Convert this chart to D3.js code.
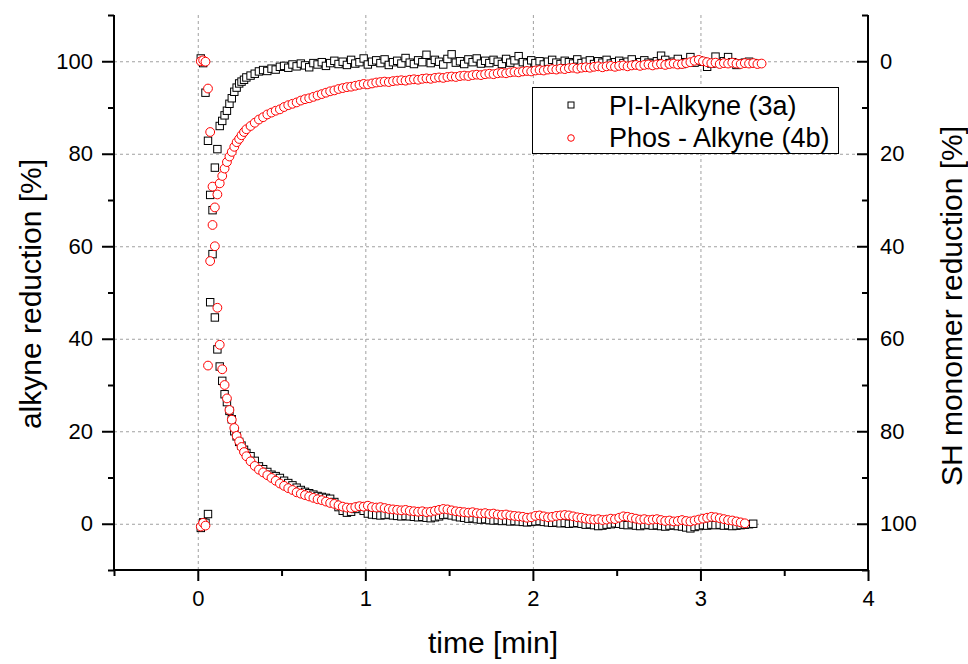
<!DOCTYPE html>
<html>
<head>
<meta charset="utf-8">
<script src="https://cdn.jsdelivr.net/npm/d3@7"></script>
<style>
  body { margin: 0; background: #fff; }
  svg { font-family: "Liberation Sans", Arial, sans-serif; }
</style>
</head>
<body>
<svg width="968" height="664"></svg>
<script>
// sampling times [min], shared by both measurements
const time = [
  0.018, 0.032, 0.046, 0.061, 0.074, 0.088, 0.102, 0.117, 0.131, 0.146,
  0.160, 0.174, 0.189, 0.203, 0.218, 0.232, 0.247, 0.261, 0.276, 0.290,
  0.315, 0.340, 0.365, 0.390, 0.415, 0.440, 0.465, 0.490,
  0.515, 0.540, 0.565, 0.590, 0.615, 0.640, 0.665, 0.690,
  0.715, 0.740, 0.765, 0.790, 0.815, 0.840, 0.865, 0.890,
  0.915, 0.940, 0.965, 0.990, 1.015, 1.040, 1.065, 1.090,
  1.115, 1.140, 1.165, 1.190, 1.215, 1.240, 1.265, 1.290,
  1.315, 1.340, 1.365, 1.390, 1.415, 1.440, 1.465, 1.490,
  1.515, 1.540, 1.565, 1.590, 1.615, 1.640, 1.665, 1.690,
  1.715, 1.740, 1.765, 1.790, 1.815, 1.840, 1.865, 1.890,
  1.915, 1.940, 1.965, 1.990, 2.015, 2.040, 2.065, 2.090,
  2.115, 2.140, 2.165, 2.190, 2.215, 2.240, 2.265, 2.290,
  2.315, 2.340, 2.365, 2.390, 2.415, 2.440, 2.465, 2.490,
  2.515, 2.540, 2.565, 2.590, 2.615, 2.640, 2.665, 2.690,
  2.715, 2.740, 2.765, 2.790, 2.815, 2.840, 2.865, 2.890,
  2.915, 2.940, 2.965, 2.990, 3.015, 3.040, 3.065, 3.090,
  3.115, 3.140, 3.165, 3.190, 3.215, 3.240, 3.265, 3.290,
  3.315, 3.340, 3.365
]

// PI-I-Alkyne (3a): alkyne reduction [%] (left axis)
const piAlkyne = [
  -0.9, 0.3, 0.2, 2.1, 47.9, 67.8, 77.0, 81.0, 86.0, 87.1,
  88.3, 89.3, 90.8, 92.0, 93.4, 94.3, 95.2, 95.6, 96.0, 96.5,
  96.9, 97.3, 97.8, 98.1, 97.9, 98.4, 98.2, 98.8,
  99.0, 98.6, 99.3, 98.9, 99.5, 99.1, 98.7, 99.6,
  99.3, 99.8, 99.0, 99.6, 100.1, 99.4, 99.9, 99.2,
  100.3, 99.5, 99.8, 100.6, 99.3, 99.9, 100.2, 99.6,
  100.4, 99.2, 99.8, 100.1, 99.5, 100.7, 99.7, 99.4,
  100.2, 99.8, 101.4, 99.6, 100.3, 99.9, 99.3, 100.5,
  101.5, 99.7, 100.0, 99.4, 100.4, 99.8, 100.6, 99.5,
  100.1, 99.6, 100.3, 99.9, 99.4, 100.5, 99.7, 100.2,
  101.1, 99.8, 99.5, 100.2, 99.6, 100.0, 99.3, 99.9,
  100.3, 99.7, 99.4, 100.1, 99.8, 99.5, 100.4, 99.6,
  99.9, 100.2, 99.4, 100.0, 99.7, 100.3, 99.5, 99.8,
  100.1, 99.6, 99.9, 100.4, 99.3, 99.8, 100.2, 99.7,
  99.5, 100.0, 101.2, 100.3, 99.6, 99.9, 100.5, 99.4,
  99.8, 100.9, 99.7, 100.2, 99.9, 98.8, 99.5, 101.0,
  99.6, 100.0, 100.9, 99.8, 99.2, 99.5, 99.7, 99.9,
  99.6
]

// PI-I-Alkyne (3a): SH monomer reduction [%] (right axis)
const piSH = [
  -0.6, 0.4, 6.8, 17.2, 28.9, 41.7, 55.4, 62.3, 66.0, 69.1,
  72.0, 73.7, 75.6, 77.4, 80.0, 81.1, 82.3, 83.1, 84.0, 84.7,
  85.4, 86.4, 87.6, 88.2, 88.8, 89.4, 89.7, 90.1,
  90.7, 91.2, 91.7, 92.2, 92.7, 93.1, 93.4, 93.7,
  94.0, 94.2, 94.4, 94.6, 95.3, 96.4, 97.2, 97.6,
  97.4, 96.8, 96.3, 97.2, 97.8, 98.0, 98.1, 98.2,
  98.1, 98.0, 98.2, 98.3, 98.4, 98.3, 98.4, 98.5,
  98.6, 98.5, 98.7, 98.8, 98.6, 98.4, 98.1, 98.0,
  98.2, 98.4, 98.6, 98.7, 98.9, 98.8, 99.0, 99.1,
  99.0, 99.2, 99.3, 99.2, 99.4, 99.3, 99.5, 99.4,
  99.5, 99.6, 99.7, 99.6, 99.5, 99.4, 99.6, 99.7,
  99.8, 99.7, 99.9, 99.8, 100.0, 99.9, 99.8, 100.0,
  100.2, 100.1, 100.3, 100.5, 100.4, 100.2, 100.1, 99.9,
  100.0, 100.2, 100.3, 100.1, 100.4, 100.5, 100.3, 100.2,
  100.4, 100.3, 100.5, 100.6, 100.4, 100.3, 100.5, 100.6,
  100.8, 101.0, 100.7, 100.5, 100.3, 100.4, 100.2, 100.3,
  100.2, 100.4, 100.3, 100.5, 100.4, 100.3, 100.2, 100.1,
  100.0
]

// Phos - Alkyne (4b): alkyne reduction [%] (left axis)
const phosAlkyne = [
  -0.6, 0.2, -0.4, 34.2, 56.8, 64.6, 68.4, 71.2, 73.6, 75.2,
  76.8, 78.2, 79.4, 80.4, 81.5, 82.5, 83.2, 84.0, 84.7, 85.3,
  86.0, 86.7, 87.4, 87.9, 88.5, 88.9, 89.3, 89.6,
  90.1, 90.5, 90.8, 91.1, 91.5, 91.8, 92.0, 92.3,
  92.6, 92.9, 93.2, 93.5, 93.7, 94.0, 94.2, 94.4,
  94.5, 94.7, 94.9, 95.1, 95.0, 95.2, 95.4, 95.5,
  95.6, 95.5, 95.7, 95.8, 95.9, 95.8, 96.0, 96.1,
  96.0, 96.2, 96.3, 96.2, 96.4, 96.5, 96.4, 96.6,
  96.7, 96.6, 96.8, 96.9, 96.8, 97.0, 97.1, 97.0,
  97.2, 97.3, 97.2, 97.4, 97.5, 97.4, 97.6, 97.7,
  97.6, 97.8, 97.9, 97.8, 98.0, 98.1, 98.0, 98.2,
  98.3, 98.2, 98.4, 98.3, 98.5, 98.6, 98.4, 98.6,
  98.7, 98.6, 98.8, 98.9, 98.7, 98.9, 99.0, 98.8,
  99.0, 99.1, 98.9, 99.1, 99.2, 99.0, 99.2, 99.3,
  99.1, 99.3, 99.4, 99.2, 99.4, 99.5, 99.3, 99.4,
  99.6, 99.8, 100.1, 100.3, 100.0, 99.8, 99.6, 99.7,
  99.4, 99.6, 99.5, 99.7, 99.5, 99.4, 99.6, 99.5,
  99.6, 99.4, 99.5
]

// Phos - Alkyne (4b): SH monomer reduction [%] (right axis)
const phosSH = [
  0.0, -0.2, 0.1, 5.9, 15.3, 27.1, 40.0, 53.3, 61.3, 66.6,
  70.0, 72.9, 75.4, 77.5, 79.3, 81.0, 82.2, 83.4, 84.5, 85.4,
  86.5, 87.5, 88.3, 88.9, 89.5, 90.1, 90.7, 91.3,
  91.8, 92.3, 92.7, 93.2, 93.5, 93.8, 94.1, 94.4,
  94.7, 94.9, 95.2, 95.5, 95.7, 96.0, 96.3, 96.5,
  96.6, 96.4, 96.2, 96.3, 96.1, 96.4, 96.5, 96.4,
  96.6, 96.8, 96.9, 97.0, 97.1, 97.0, 97.2, 97.3,
  97.4, 97.3, 97.5, 97.4, 97.2, 97.0, 96.8, 96.9,
  97.1, 97.3, 97.4, 97.5, 97.6, 97.5, 97.7, 97.8,
  97.7, 97.9, 97.8, 98.0, 98.1, 98.0, 98.2, 98.3,
  98.4, 98.5, 98.7, 98.6, 98.3, 98.2, 98.4, 98.6,
  98.5, 98.3, 98.2, 98.1, 98.2, 98.4, 98.6, 98.7,
  98.9, 99.0, 99.1, 99.0, 99.2, 99.1, 98.9, 99.0,
  98.7, 98.4, 98.5, 98.7, 98.9, 99.1, 99.0, 99.2,
  99.1, 99.0, 99.2, 99.4, 99.3, 99.5, 99.4, 99.2,
  99.4, 99.5, 99.3, 99.1, 98.9, 98.7, 98.5, 98.6,
  98.8, 99.0, 99.2, 99.3, 99.5, 99.7, 99.9
]

const xTicks = [0, 1, 2, 3, 4]
const xMinor = [-0.5, 0.5, 1.5, 2.5, 3.5]
const yTicks = [0, 20, 40, 60, 80, 100]
const yMinor = [-10, 10, 30, 50, 70, 90, 110]
const seriesNames = ["PI-I-Alkyne (3a)", "Phos - Alkyne (4b)"]

const svg = d3.select("svg")
const pLeft = 114, pRight = 868, pTop = 15, pBottom = 570

const x = d3.scaleLinear().domain([-0.5, 4]).range([pLeft, pRight])
const yL = d3.scaleLinear().domain([-10, 110]).range([pBottom, pTop])
// right axis is reversed: 0 at the top, 100 at the bottom
const yR = d3.scaleLinear().domain([-10, 110]).range([pTop, pBottom])

const fontTick = "22px"
const fontTitle = "30px"

// grid
const grid = svg.append("g").attr("stroke", "#a0a0a0").attr("stroke-width", 1)
  .attr("stroke-dasharray", "3,3")
grid.selectAll(".gy").data(yTicks).join("line")
  .attr("x1", pLeft).attr("x2", pRight)
  .attr("y1", d => yL(d) + 0.5).attr("y2", d => yL(d) + 0.5)
grid.selectAll(".gx").data(xTicks.filter(d => d < 4)).join("line")
  .attr("y1", pTop).attr("y2", pBottom)
  .attr("x1", d => x(d) + 0.5).attr("x2", d => x(d) + 0.5)

function styleAxis(g) {
  g.select(".domain").remove()
  g.selectAll("line").attr("stroke", "#000").attr("stroke-width", 2)
  g.selectAll("text").attr("fill", "#000").attr("font-size", fontTick)
    .attr("font-family", "Liberation Sans, Arial, sans-serif")
}

// left axis
svg.append("g").attr("transform", `translate(${pLeft},0)`)
  .call(d3.axisLeft(yL).tickValues(yTicks).tickSize(12).tickPadding(9))
  .call(styleAxis)
svg.append("g").attr("transform", `translate(${pLeft},0)`)
  .call(d3.axisLeft(yL).tickValues(yMinor).tickSize(6).tickFormat(""))
  .call(styleAxis)

// right axis (ticks point inward)
svg.append("g").attr("transform", `translate(${pRight},0)`)
  .call(d3.axisRight(yR).tickValues(yTicks).tickSizeInner(-11).tickSizeOuter(0).tickPadding(12))
  .call(styleAxis)
svg.append("g").attr("transform", `translate(${pRight},0)`)
  .call(d3.axisRight(yR).tickValues(yMinor.map(v => 100 - v)).tickSizeInner(-6).tickSizeOuter(0).tickFormat(""))
  .call(styleAxis)

// bottom axis
svg.append("g").attr("transform", `translate(0,${pBottom})`)
  .call(d3.axisBottom(x).tickValues(xTicks).tickSize(11).tickPadding(9).tickFormat(d3.format("d")))
  .call(styleAxis)
svg.append("g").attr("transform", `translate(0,${pBottom})`)
  .call(d3.axisBottom(x).tickValues(xMinor).tickSize(6).tickFormat(""))
  .call(styleAxis)

// frame lines: left, bottom, right
svg.append("path")
  .attr("d", `M${pLeft},${pTop}V${pBottom}H${pRight}V${pTop}`)
  .attr("fill", "none").attr("stroke", "#000").attr("stroke-width", 2)

// points
const pts = vals => vals.map((v, i) => [time[i], v])

function squares(data, yScale) {
  svg.append("g").selectAll("rect").data(data).join("rect")
    .attr("x", d => x(d[0]) - 3.7).attr("y", d => yScale(d[1]) - 3.7)
    .attr("width", 7.4).attr("height", 7.4)
    .attr("fill", "#fff").attr("stroke", "#000").attr("stroke-width", 1)
}
function circles(data, yScale) {
  svg.append("g").selectAll("circle").data(data).join("circle")
    .attr("cx", d => x(d[0])).attr("cy", d => yScale(d[1]))
    .attr("r", 4.4)
    .attr("fill", "#fff").attr("stroke", "#ff0000").attr("stroke-width", 1)
}

squares(pts(piSH), yR)
squares(pts(piAlkyne), yL)
circles(pts(phosSH), yR)
circles(pts(phosAlkyne), yL)

// legend
const lg = svg.append("g")
lg.append("rect").attr("x", 532.5).attr("y", 87.5).attr("width", 306).attr("height", 66)
  .attr("fill", "#fff").attr("stroke", "#000").attr("stroke-width", 1)
lg.append("rect").attr("x", 568).attr("y", 102).attr("width", 6).attr("height", 6)
  .attr("fill", "#fff").attr("stroke", "#000")
lg.append("circle").attr("cx", 571).attr("cy", 138).attr("r", 3.3)
  .attr("fill", "#fff").attr("stroke", "#ff0000")
lg.selectAll("text").data(seriesNames).join("text")
  .attr("x", 609).attr("y", (d, i) => 115 + i * 32)
  .attr("font-size", "27px").attr("fill", "#000")
  .text(d => d)

// axis titles
svg.append("text").attr("x", (pLeft + pRight) / 2 + 2).attr("y", 653)
  .attr("text-anchor", "middle").attr("font-size", fontTitle).text("time [min]")
svg.append("text").attr("transform", `translate(41,294) rotate(-90)`)
  .attr("text-anchor", "middle").attr("font-size", fontTitle).text("alkyne reduction [%]")
svg.append("text").attr("transform", `translate(962,306) rotate(-90)`)
  .attr("text-anchor", "middle").attr("font-size", fontTitle).text("SH monomer reduction [%]")
</script>
</body>
</html>
